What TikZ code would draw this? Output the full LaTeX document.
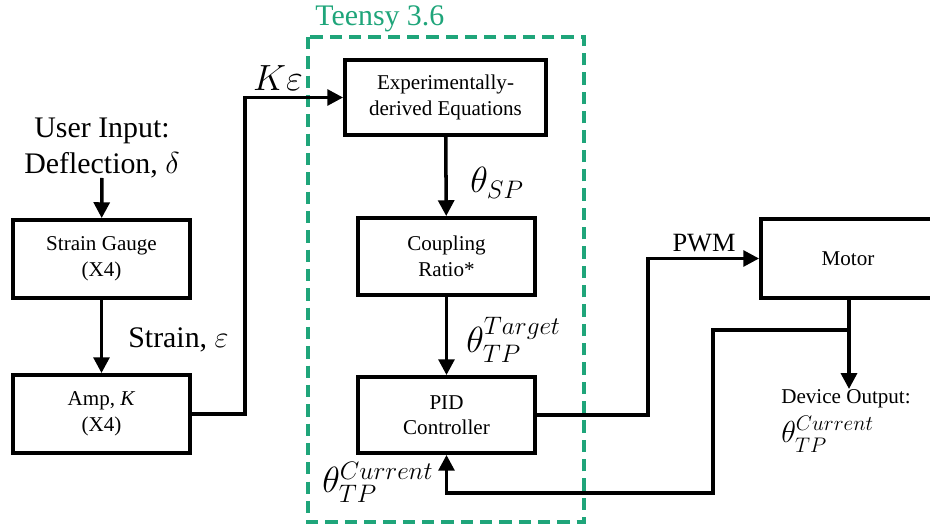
\documentclass[tikz,border=0pt]{standalone}
\usepackage{fontspec}
\setmainfont{Liberation Serif}
\usepackage{amsmath}
\usepackage{xcolor}
\usetikzlibrary{arrows.meta}
\definecolor{teensygreen}{HTML}{1FA57A}
\tikzset{
  blk/.style={draw,line width=2.2pt,align=center,inner sep=0pt,
    font=\fontsize{12}{14.5}\selectfont},
  sig/.style={-{Triangle[length=9pt,width=9pt]},line width=2pt},
  lbl/.style={font=\fontsize{17}{20}\selectfont,inner sep=0pt},
  mlbl/.style={font=\fontsize{20}{22}\selectfont,inner sep=0pt},
}

\begin{document}
\begin{tikzpicture}[x=0.02cm,y=-0.02cm]
\useasboundingbox (0,0) rectangle (930,527);
% controller boundary
\draw[teensygreen,line width=2.2pt,dash pattern=on 7pt off 4pt] (308,37) rectangle (584,522);
\node[lbl,teensygreen,anchor=west] (teensy) at (315,19) {Teensy 3.6};
% blocks
\node[lbl,align=center] (user) at (102,148) {User Input:\\Deflection, $\delta$};
\node[blk,minimum width=3.54cm,minimum height=1.56cm] (sg) at (101.5,259) {Strain Gauge\\(X4)};
\node[blk,minimum width=3.54cm,minimum height=1.56cm] (amp) at (101.5,414) {Amp, \textit{K}\\(X4)};
\node[blk,minimum width=4.02cm,minimum height=1.5cm] (exp) at (445.5,97.5) {Experimentally-\\derived Equations};
\node[blk,minimum width=3.54cm,minimum height=1.54cm] (cpl) at (446.5,256.5) {Coupling\\Ratio*};
\node[blk,minimum width=3.54cm,minimum height=1.52cm] (pid) at (446.5,415) {PID\\Controller};
\node[blk,minimum width=3.48cm,minimum height=1.58cm] (motor) at (848,258.5) {Motor};
\node[align=left,inner sep=0pt,anchor=north,font=\fontsize{12}{15}\selectfont] (dev) at (846,389)
  {Device Output:\\[4pt]\fontsize{17}{18}\selectfont$\theta_{\raisebox{-1.5pt}{$\scriptstyle TP$}}^{Current}$};
% signal labels
\node[lbl,anchor=west] (strain) at (128,340) {Strain, $\varepsilon$};
\node[mlbl] (keps) at (278,78) {$K\varepsilon$};
\node[mlbl,anchor=west] (tsp) at (470,183) {$\theta_{SP}$};
\node[mlbl,anchor=west] (ttgt) at (466,340) {$\theta_{TP}^{Target}$};
\node[font=\fontsize{15}{18}\selectfont,inner sep=0pt] (pwm) at (704,243) {PWM};
\node[mlbl,anchor=west] (tcur) at (322,482) {$\theta_{TP}^{Current}$};
% routing points
\coordinate (k1) at (245,97.5);
\coordinate (pw) at (648,258.5);
\coordinate (fb) at (849,330);
\coordinate (fb1) at (713,493);
% connectors
\draw[sig] (user) -- (sg);
\draw[sig] (sg) -- (amp);
\draw[sig] (amp.east) -| (k1) -- (exp.west);
\draw[sig] (exp) -- (cpl);
\draw[sig] (cpl) -- (pid);
\draw[sig] (pid.east) -| (pw) -- (motor.west);
\draw[sig] (motor.south -| fb) -- (dev.north -| fb);
\draw[sig] (fb) -| (fb1) -| (pid.south);
\end{tikzpicture}
\end{document}
